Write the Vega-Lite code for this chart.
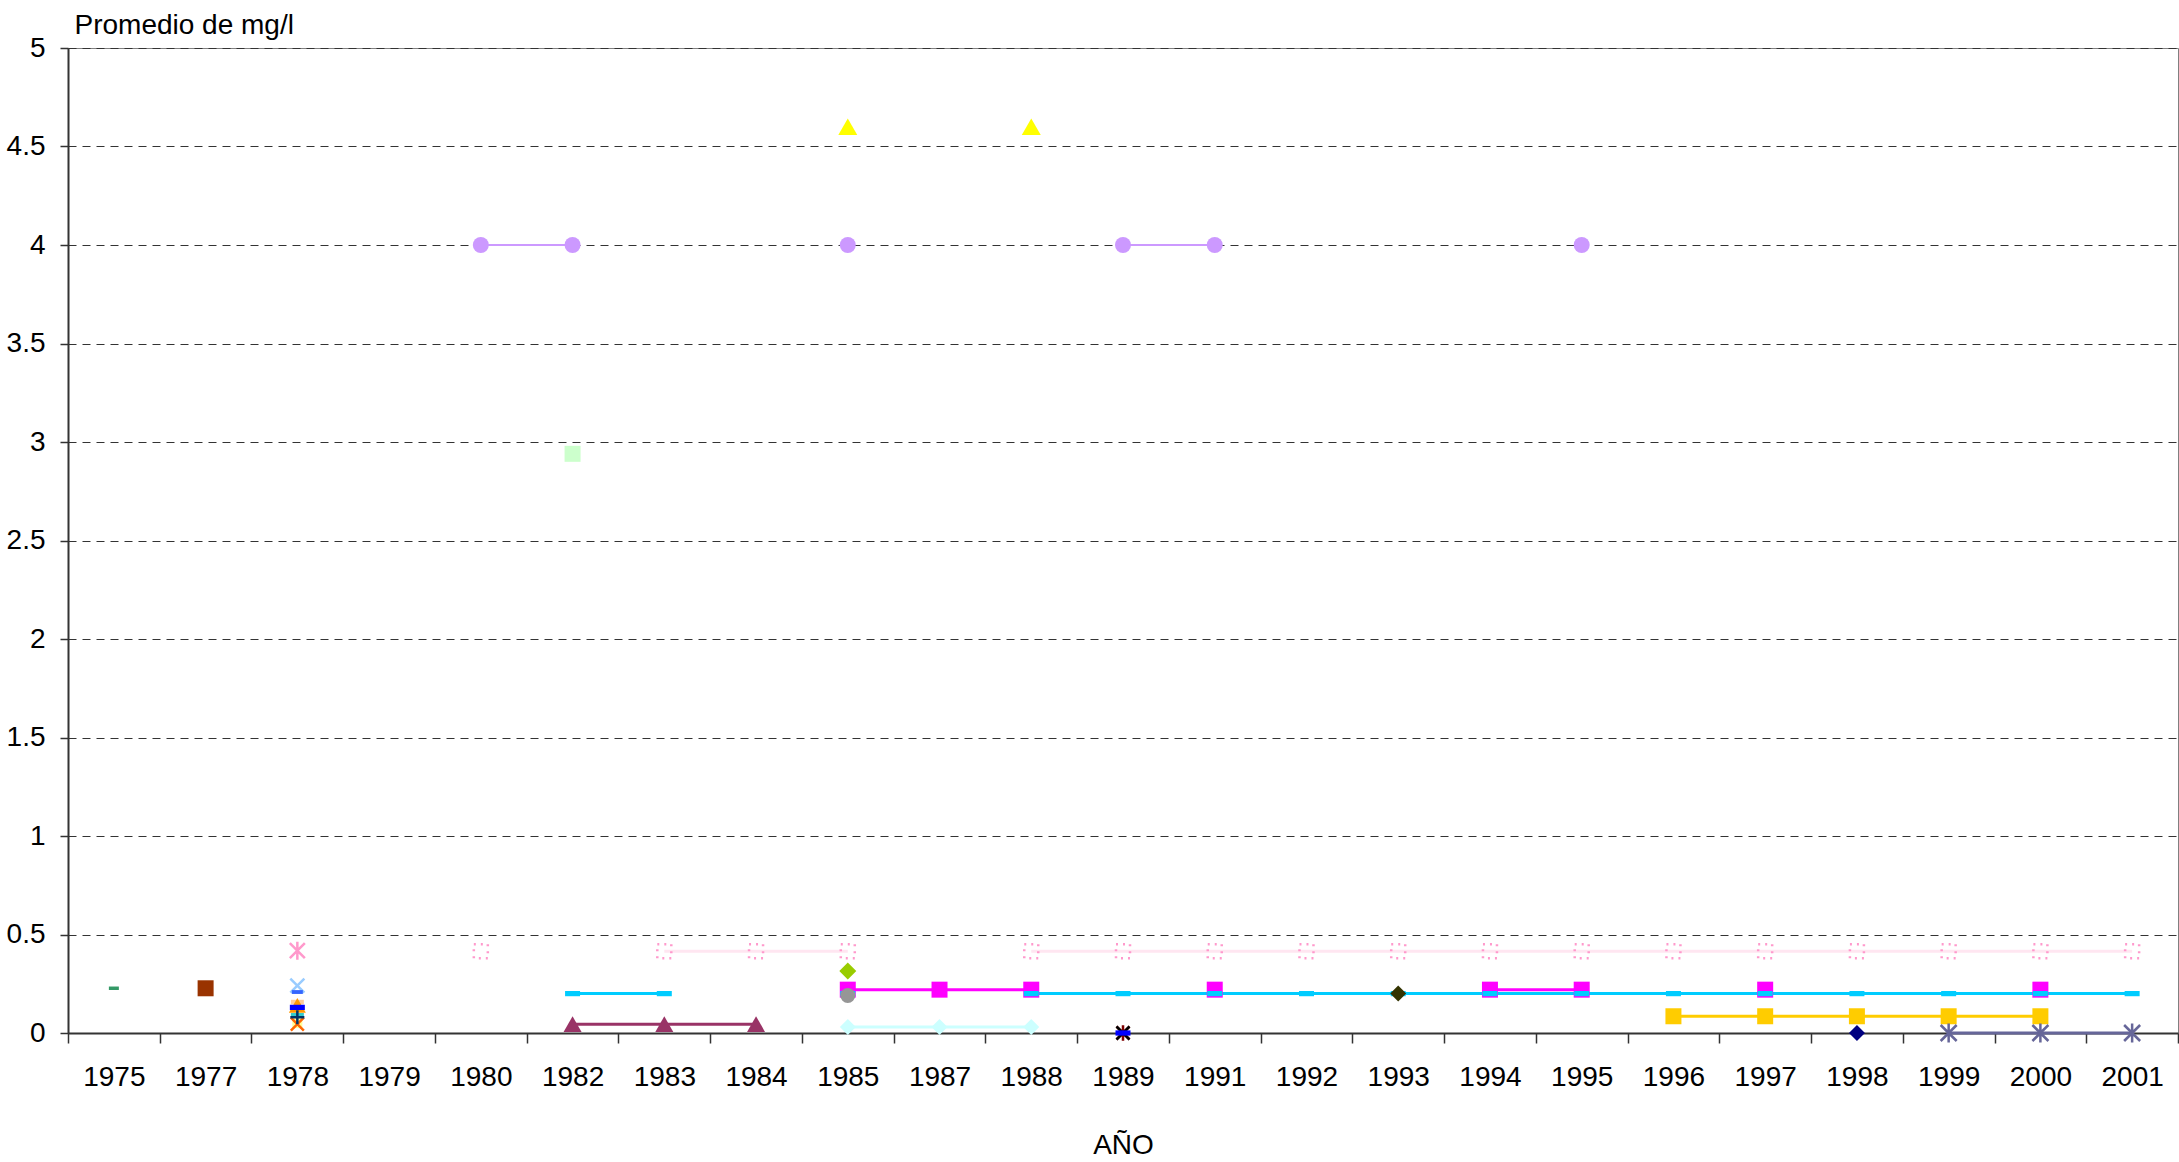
{
  "$schema": "https://vega.github.io/schema/vega-lite/v6.json",
  "width": 2110,
  "height": 985,
  "autosize": "none",
  "padding": {"left": 68, "top": 48, "right": 1, "bottom": 129},
  "background": "white",
  "config": {
    "view": {"stroke": "#808080", "strokeWidth": 1},
    "font": "Liberation Sans"
  },
  "datasets": {
    "pts": [
      {"year": "1982", "v": 2.94, "s": "s03", "g": "s03a"},
      {"year": "1980", "v": 4, "s": "s01", "g": "s01a"},
      {"year": "1982", "v": 4, "s": "s01", "g": "s01a"},
      {"year": "1985", "v": 4, "s": "s01", "g": "s01b"},
      {"year": "1989", "v": 4, "s": "s01", "g": "s01c"},
      {"year": "1991", "v": 4, "s": "s01", "g": "s01c"},
      {"year": "1995", "v": 4, "s": "s01", "g": "s01d"},
      {"year": "1985", "v": 4.6, "s": "s02", "g": "s02a"},
      {"year": "1988", "v": 4.6, "s": "s02", "g": "s02b"},
      {"year": "1980", "v": 0.415, "s": "s04", "g": "s04a"},
      {"year": "1983", "v": 0.415, "s": "s04", "g": "s04b"},
      {"year": "1984", "v": 0.415, "s": "s04", "g": "s04b"},
      {"year": "1985", "v": 0.415, "s": "s04", "g": "s04b"},
      {"year": "1988", "v": 0.415, "s": "s04", "g": "s04c"},
      {"year": "1989", "v": 0.415, "s": "s04", "g": "s04c"},
      {"year": "1991", "v": 0.415, "s": "s04", "g": "s04c"},
      {"year": "1992", "v": 0.415, "s": "s04", "g": "s04c"},
      {"year": "1993", "v": 0.415, "s": "s04", "g": "s04c"},
      {"year": "1994", "v": 0.415, "s": "s04", "g": "s04c"},
      {"year": "1995", "v": 0.415, "s": "s04", "g": "s04c"},
      {"year": "1996", "v": 0.415, "s": "s04", "g": "s04c"},
      {"year": "1997", "v": 0.415, "s": "s04", "g": "s04c"},
      {"year": "1998", "v": 0.415, "s": "s04", "g": "s04c"},
      {"year": "1999", "v": 0.415, "s": "s04", "g": "s04c"},
      {"year": "2000", "v": 0.415, "s": "s04", "g": "s04c"},
      {"year": "2001", "v": 0.415, "s": "s04", "g": "s04c"},
      {"year": "1985", "v": 0.03, "s": "s13", "g": "s13a"},
      {"year": "1987", "v": 0.03, "s": "s13", "g": "s13a"},
      {"year": "1988", "v": 0.03, "s": "s13", "g": "s13a"},
      {"year": "1982", "v": 0.045, "s": "s12", "g": "s12a"},
      {"year": "1983", "v": 0.045, "s": "s12", "g": "s12a"},
      {"year": "1984", "v": 0.045, "s": "s12", "g": "s12a"},
      {"year": "1985", "v": 0.22, "s": "s07", "g": "s07a"},
      {"year": "1987", "v": 0.22, "s": "s07", "g": "s07a"},
      {"year": "1988", "v": 0.22, "s": "s07", "g": "s07a"},
      {"year": "1991", "v": 0.22, "s": "s07", "g": "s07b"},
      {"year": "1994", "v": 0.22, "s": "s07", "g": "s07c"},
      {"year": "1995", "v": 0.22, "s": "s07", "g": "s07c"},
      {"year": "1997", "v": 0.22, "s": "s07", "g": "s07d"},
      {"year": "2000", "v": 0.22, "s": "s07", "g": "s07e"},
      {"year": "1982", "v": 0.2, "s": "s06", "g": "s06a"},
      {"year": "1983", "v": 0.2, "s": "s06", "g": "s06a"},
      {"year": "1985", "v": 0.2, "s": "s06", "g": "s06b"},
      {"year": "1988", "v": 0.2, "s": "s06", "g": "s06c"},
      {"year": "1989", "v": 0.2, "s": "s06", "g": "s06c"},
      {"year": "1991", "v": 0.2, "s": "s06", "g": "s06c"},
      {"year": "1992", "v": 0.2, "s": "s06", "g": "s06c"},
      {"year": "1993", "v": 0.2, "s": "s06", "g": "s06c"},
      {"year": "1994", "v": 0.2, "s": "s06", "g": "s06c"},
      {"year": "1995", "v": 0.2, "s": "s06", "g": "s06c"},
      {"year": "1996", "v": 0.2, "s": "s06", "g": "s06c"},
      {"year": "1997", "v": 0.2, "s": "s06", "g": "s06c"},
      {"year": "1998", "v": 0.2, "s": "s06", "g": "s06c"},
      {"year": "1999", "v": 0.2, "s": "s06", "g": "s06c"},
      {"year": "2000", "v": 0.2, "s": "s06", "g": "s06c"},
      {"year": "2001", "v": 0.2, "s": "s06", "g": "s06c"},
      {"year": "1985", "v": 0.19, "s": "s15", "g": "s15a"},
      {"year": "1985", "v": 0.315, "s": "s14", "g": "s14a"},
      {"year": "1993", "v": 0.2, "s": "s11", "g": "s11a"},
      {"year": "1996", "v": 0.085, "s": "s08", "g": "s08a"},
      {"year": "1997", "v": 0.085, "s": "s08", "g": "s08a"},
      {"year": "1998", "v": 0.085, "s": "s08", "g": "s08a"},
      {"year": "1999", "v": 0.085, "s": "s08", "g": "s08a"},
      {"year": "2000", "v": 0.085, "s": "s08", "g": "s08a"},
      {"year": "1998", "v": 0, "s": "s10", "g": "s10a"},
      {"year": "1999", "v": 0, "s": "s09", "g": "s09a"},
      {"year": "2000", "v": 0, "s": "s09", "g": "s09a"},
      {"year": "2001", "v": 0, "s": "s09", "g": "s09a"},
      {"year": "1975", "v": 0.227, "s": "s16", "g": "s16a"},
      {"year": "1977", "v": 0.227, "s": "s17", "g": "s17a"},
      {"year": "1978", "v": 0.418, "s": "s05", "g": "s05a"},
      {"year": "1978", "v": 0.24, "s": "s18", "g": "s18a"},
      {"year": "1978", "v": 0.208, "s": "s19", "g": "s19a"},
      {"year": "1978", "v": 0.157, "s": "s20", "g": "s20a"},
      {"year": "1978", "v": 0.05, "s": "s24", "g": "s24a"},
      {"year": "1978", "v": 0.14, "s": "s21", "g": "s21a"},
      {"year": "1978", "v": 0.13, "s": "s22", "g": "s22a"},
      {"year": "1978", "v": 0.09, "s": "s23", "g": "s23a"},
      {"year": "1978", "v": 0.045, "s": "s26", "g": "s26a"},
      {"year": "1978", "v": 0.08, "s": "s25", "g": "s25a"},
      {"year": "1989", "v": 0, "s": "s28", "g": "s28a"},
      {"year": "1989", "v": 0, "s": "s27", "g": "s27a"},
      {"year": "1989", "v": 0, "s": "s22", "g": "s22b"}
    ]
  },
  "data": {"name": "pts"},
  "encoding": {
    "x": {
      "field": "year",
      "type": "ordinal",
      "bandPosition": 0.5,
      "scale": {
        "type": "band",
        "paddingInner": 0,
        "paddingOuter": 0,
        "domain": ["1975","1977","1978","1979","1980","1982","1983","1984","1985","1987","1988","1989","1991","1992","1993","1994","1995","1996","1997","1998","1999","2000","2001"]
      },
      "axis": {
        "title": "AÑO",
        "titleFont": "Liberation Sans",
        "titleFontSize": 28,
        "titleFontWeight": "normal",
        "titleColor": "#000000",
        "titleBaseline": "alphabetic",
        "titleY": 120,
        "labelFont": "Liberation Sans",
        "labelFontSize": 28,
        "labelColor": "#000000",
        "labelAngle": 0,
        "labelPadding": 20,
        "tickBand": "extent",
        "tickSize": 10,
        "tickColor": "#333333",
        "tickWidth": 1.5,
        "domainColor": "#333333",
        "domainWidth": 2,
        "grid": false
      }
    },
    "y": {
      "field": "v",
      "type": "quantitative",
      "scale": {"domain": [0, 5], "nice": false},
      "axis": {
        "title": "Promedio de mg/l",
        "titleFont": "Liberation Sans",
        "titleFontSize": 28,
        "titleFontWeight": "normal",
        "titleColor": "#000000",
        "titleAngle": 0,
        "titleAlign": "left",
        "titleBaseline": "alphabetic",
        "titleX": 6,
        "titleY": -15,
        "values": [0, 0.5, 1, 1.5, 2, 2.5, 3, 3.5, 4, 4.5, 5],
        "format": "~g",
        "labelFont": "Liberation Sans",
        "labelFontSize": 28,
        "labelColor": "#000000",
        "labelPadding": 15,
        "tickSize": 8,
        "tickColor": "#333333",
        "tickWidth": 1.5,
        "domainColor": "#333333",
        "domainWidth": 2,
        "grid": true,
        "gridColor": "#333333",
        "gridWidth": 1,
        "gridDash": [8, 6]
      }
    }
  },
  "layer": [
    {
      "transform": [{"filter": "datum.s !== 's01'"}],
      "mark": {"type": "line", "strokeWidth": 3, "strokeCap": "butt"},
      "encoding": {
        "detail": {"field": "g", "type": "nominal"},
        "color": {
          "field": "s",
          "type": "nominal",
          "legend": null,
          "scale": {
            "domain": ["s01","s02","s03","s04","s05","s06","s07","s08","s09","s10","s11","s12","s13","s14","s15","s16","s17","s18","s19","s20","s21","s22","s23","s24","s25","s26","s27","s28"],
            "range": ["#CC99FF","#FFFF00","#CCFFCC","#FFE6F1","#FF99CC","#00CCFF","#FF00FF","#FFCC00","#666699","#000080","#333300","#993366","#CCFFFF","#99CC00","#969696","#339966","#993300","#99CCFF","#3366FF","#FFCC99","#FF9900","#0000FF","#33CCCC","#FFFF99","#003366","#FF6600","#000000","#800000"]
          }
        }
      }
    },
    {
      "transform": [{"filter": "datum.s === 's01'"}],
      "mark": {"type": "line", "strokeWidth": 2, "color": "#CC99FF"},
      "encoding": {
        "detail": {"field": "g", "type": "nominal"}
      }
    },
    {
      "transform": [{"filter": "datum.s === 's04'"}],
      "mark": {"type": "point", "shape": "square", "filled": false, "stroke": "#FF99CC", "strokeWidth": 2.5, "strokeDash": [2, 5], "size": 196, "opacity": 1}
    },
    {
      "transform": [{"filter": "datum.s !== 's04'"}],
      "mark": {"type": "point", "filled": true, "opacity": 1, "strokeWidth": 2.5},
      "encoding": {
        "shape": {
          "field": "s",
          "type": "nominal",
          "legend": null,
          "scale": {
            "domain": ["s01","s02","s03","s05","s06","s07","s08","s09","s10","s11","s12","s13","s14","s15","s16","s17","s18","s19","s20","s21","s22","s23","s24","s25","s26","s27","s28"],
            "range": ["circle","triangle-up","square","M-1,-1L1,1M-1,1L1,-1M0,-1.2L0,1.2","M-1,-0.35L1,-0.35L1,0.35L-1,0.35Z","square","square","M-1,-1L1,1M-1,1L1,-1M0,-1.2L0,1.2","diamond","diamond","triangle-up","diamond","diamond","circle","M-1,-0.35L1,-0.35L1,0.35L-1,0.35Z","square","M-1,-1L1,1M-1,1L1,-1","M-1,-0.35L1,-0.35L1,0.35L-1,0.35Z","M-1,-0.35L1,-0.35L1,0.35L-1,0.35Z","triangle-up","M-1,-0.35L1,-0.35L1,0.35L-1,0.35Z","M-1,-0.35L1,-0.35L1,0.35L-1,0.35Z","square","M-1,0L1,0M0,-1L0,1","M-1,-1L1,1M-1,1L1,-1","M-1,-1L1,1M-1,1L1,-1","M-1,-1L1,1M-1,1L1,-1M0,-1.2L0,1.2"]
          }
        },
        "fill": {
          "field": "s",
          "type": "nominal",
          "legend": null,
          "scale": {
            "domain": ["s01","s02","s03","s05","s06","s07","s08","s09","s10","s11","s12","s13","s14","s15","s16","s17","s18","s19","s20","s21","s22","s23","s24","s25","s26","s27","s28"],
            "range": ["#CC99FF","#FFFF00","#CCFFCC","transparent","#00CCFF","#FF00FF","#FFCC00","transparent","#000080","#333300","#993366","#CCFFFF","#99CC00","#969696","#339966","#993300","transparent","#3366FF","#FFCC99","#FF9900","#0000FF","#33CCCC","#FFFF99","transparent","transparent","transparent","transparent"]
          }
        },
        "stroke": {
          "field": "s",
          "type": "nominal",
          "legend": null,
          "scale": {
            "domain": ["s01","s02","s03","s05","s06","s07","s08","s09","s10","s11","s12","s13","s14","s15","s16","s17","s18","s19","s20","s21","s22","s23","s24","s25","s26","s27","s28"],
            "range": ["transparent","transparent","transparent","#FF99CC","transparent","transparent","transparent","#666699","transparent","transparent","transparent","transparent","transparent","transparent","transparent","transparent","#99CCFF","transparent","transparent","transparent","transparent","transparent","transparent","#003366","#FF6600","#000000","#800000"]
          }
        },
        "size": {
          "field": "s",
          "type": "nominal",
          "legend": null,
          "scale": {
            "type": "ordinal",
            "domain": ["s01","s02","s03","s05","s06","s07","s08","s09","s10","s11","s12","s13","s14","s15","s16","s17","s18","s19","s20","s21","s22","s23","s24","s25","s26","s27","s28"],
            "range": [256,361,256,225,225,256,256,256,256,256,324,256,289,225,100,256,196,121,169,289,225,169,100,196,169,169,169]
          }
        }
      }
    }
  ]
}
